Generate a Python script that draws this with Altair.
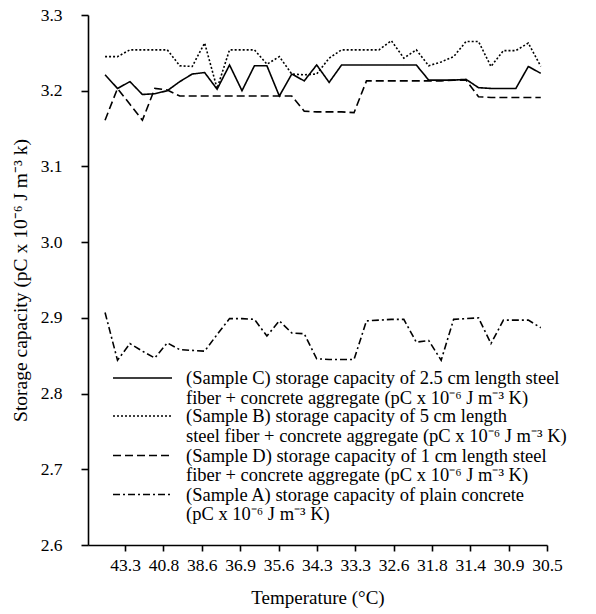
import altair as alt
import pandas as pd
import numpy as np

# Tick labels (temperature, °C)
temps = ["43.3", "40.8", "38.6", "36.9", "35.6", "34.3", "33.3", "32.6", "31.8", "31.4", "30.9", "30.5"]

# Storage capacity readings (pC x 10^-6 J m^-3 K), 36 readings each
sample_c = [3.221, 3.203, 3.212, 3.195, 3.196, 3.200, 3.212, 3.222, 3.224, 3.202,
            3.234, 3.200, 3.233, 3.233, 3.193, 3.222, 3.213, 3.234, 3.211, 3.234,
            3.234, 3.234, 3.234, 3.234, 3.234, 3.234, 3.214, 3.214, 3.214, 3.215,
            3.204, 3.203, 3.203, 3.203, 3.232, 3.223]
sample_b = [3.245, 3.245, 3.254, 3.254, 3.254, 3.254, 3.233, 3.232, 3.263, 3.203,
            3.254, 3.254, 3.254, 3.235, 3.245, 3.222, 3.221, 3.222, 3.243, 3.254,
            3.254, 3.254, 3.254, 3.266, 3.243, 3.254, 3.233, 3.238, 3.245, 3.265,
            3.265, 3.232, 3.253, 3.253, 3.263, 3.232]
sample_d = [3.161, 3.203, 3.182, 3.161, 3.203, 3.201, 3.193, 3.193, 3.193, 3.193,
            3.193, 3.193, 3.193, 3.193, 3.193, 3.193, 3.173, 3.172, 3.172, 3.172,
            3.171, 3.213, 3.213, 3.213, 3.213, 3.213, 3.213, 3.213, 3.214, 3.214,
            3.192, 3.191, 3.191, 3.191, 3.191, 3.191]
sample_a = [2.907, 2.844, 2.866, 2.856, 2.847, 2.867, 2.858, 2.857, 2.856, 2.878,
            2.899, 2.899, 2.898, 2.876, 2.896, 2.880, 2.879, 2.846, 2.845, 2.845,
            2.845, 2.896, 2.897, 2.898, 2.898, 2.868, 2.870, 2.844, 2.898, 2.899,
            2.900, 2.866, 2.897, 2.897, 2.897, 2.887]

series_names = ["C", "B", "D", "A"]
legend_lines = [
    ["(Sample C) storage capacity of 2.5 cm length steel",
     "fiber + concrete aggregate (pC x 10\u207b\u2076 J m\u207b\u00b3 K)"],
    ["(Sample B) storage capacity of 5 cm length",
     "steel fiber + concrete aggregate (pC x 10\u207b\u2076 J m\u207b\u00b3 K)"],
    ["(Sample D) storage capacity of 1 cm length steel",
     "fiber + concrete aggregate (pC x 10\u207b\u2076 J m\u207b\u00b3 K)"],
    ["(Sample A) storage capacity of plain concrete",
     "(pC x 10\u207b\u2076 J m\u207b\u00b3 K)"],
]
dashes = [[1, 0], [2, 2], [8, 4], [7, 3, 2, 3]]

rows = []
for name, vals in zip(series_names, [sample_c, sample_b, sample_d, sample_a]):
    for i, v in enumerate(vals):
        rows.append({"series": name, "idx": i, "value": v})
df = pd.DataFrame(rows)

FONT = "Liberation Serif"
t0, tstep = 1.61, 3.081
tick_pos = [t0 + tstep * k for k in range(len(temps))]
label_expr = "[" + ",".join(f"'{t}'" for t in temps) + f"][round((datum.value - {t0}) / {tstep})]"

x_enc = alt.X("idx:Q",
              scale=alt.Scale(domain=[-1.37, tick_pos[-1]], nice=False, zero=False),
              axis=alt.Axis(values=tick_pos, labelExpr=label_expr, grid=False,
                            labelOverlap=False, labelBound=False, labelFlush=False,
                            title="Temperature (\u00b0C)", tickSize=6, labelPadding=5,
                            titleFontSize=19,
                            titleX=229.5, titleY=52, titleBaseline="middle",
                            titleAlign="center"))
y_enc = alt.Y("value:Q",
              scale=alt.Scale(domain=[2.6, 3.3], nice=False, zero=False),
              axis=alt.Axis(values=[2.6, 2.7, 2.8, 2.9, 3.0, 3.1, 3.2, 3.3], format=".1f",
                            grid=False, tickSize=7, labelPadding=19,
                            labelOverlap=False, labelFlush=False,
                            titleFontSize=19.5,
                            title="Storage capacity (pC x 10\u207b\u2076 J m\u207b\u00b3 k)",
                            titleX=-68, titleY=265, titleAngle=-90, titleBaseline="middle",
                            titleAlign="center"))

lines = alt.Chart(df).mark_line(color="black", strokeWidth=1.6).encode(
    x=x_enc,
    y=y_enc,
    detail="series:N",
    strokeDash=alt.StrokeDash("series:N",
                              scale=alt.Scale(domain=series_names, range=dashes),
                              legend=None),
)

layers = [lines]
sym_y = [363, 401, 440.5, 479.5]
for k, name in enumerate(series_names):
    sym = alt.Chart(pd.DataFrame({"series": [name]})).mark_rule(
        color="black", strokeWidth=1.6, strokeDash=dashes[k]).encode(
        x=alt.value(25), x2=alt.value(84), y=alt.value(sym_y[k]))
    layers.append(sym)
    for j, line in enumerate(legend_lines[k]):
        txt = alt.Chart(pd.DataFrame({"t": [line]})).mark_text(
            align="left", baseline="middle", font=FONT, fontSize=18.5, color="black").encode(
            x=alt.value(98), y=alt.value(sym_y[k] + 19.6 * j), text="t:N")
        layers.append(txt)

chart = alt.layer(*layers).properties(
    width=459, height=530,
    background="white",
    autosize=alt.AutoSizeParams(type="none"),
    padding={"left": 88, "top": 15, "right": 49, "bottom": 69},
).configure_view(stroke=None).configure_axis(
    domainColor="black", domainWidth=1.6, tickColor="black", tickWidth=1.6,
    labelFont=FONT, labelFontSize=17.5, labelColor="black",
    titleFont=FONT, titleFontWeight="normal", titleColor="black",
)

chart.save("out.html", embed_options={"renderer": "svg", "actions": False})
